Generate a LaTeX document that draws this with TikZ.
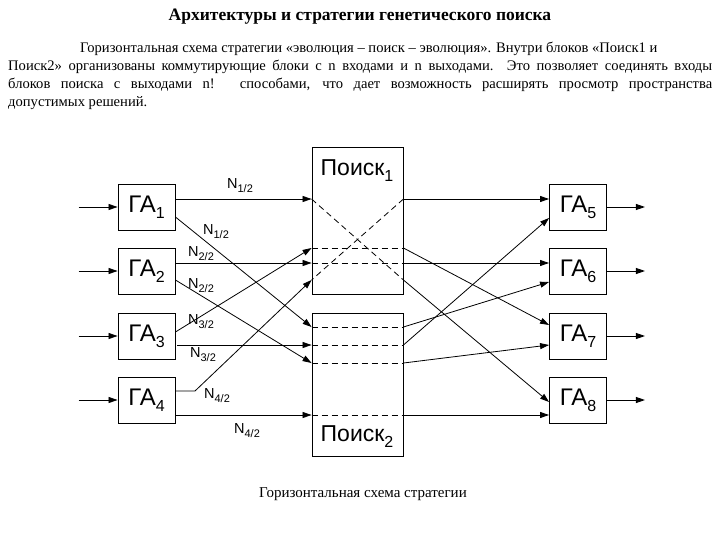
\documentclass[tikz,border=0pt]{standalone}
\usepackage{fontspec}
\setmainfont{Liberation Serif}
\newfontfamily\arial{Liberation Sans}
\usetikzlibrary{arrows.meta,calc}
\newcommand{\sbs}[1]{\raisebox{-6pt}{\fontsize{16}{16}\selectfont #1}}
\newcommand{\nsb}[1]{N\raisebox{-4pt}{\fontsize{11}{11}\selectfont #1}}
\begin{document}
\begin{tikzpicture}[x=1pt,y=-1pt,
  blk/.style={draw,line width=0.9pt,minimum width=57pt,minimum height=46pt,inner sep=0pt,font=\arial\fontsize{24}{24}\selectfont},
  srch/.style={draw,line width=0.9pt,minimum width=91pt,inner sep=0pt},
  con/.style={line width=0.8pt,-{Triangle[length=9pt,width=6pt]}},
  dsh/.style={line width=0.8pt,dash pattern=on 6pt off 4pt},
  lab/.style={font=\arial\fontsize{14.5}{14.5}\selectfont,inner sep=0pt}]
\useasboundingbox (0,0) rectangle (720,540);
\node[font=\bfseries\fontsize{17.5}{18}\selectfont] (title) at (360,17) {Архитектуры и стратегии генетического поиска};
\node[anchor=north west,inner sep=0pt,font=\fontsize{14.6}{18}\selectfont,align=left] (para) at (8,42) {%
\hspace*{72pt}Горизонтальная схема стратегии «эволюция – поиск – эволюция». Внутри блоков «Поиск1 и\\
\makebox[704pt][s]{Поиск2» организованы коммутирующие блоки с n входами и n выходами. Это позволяет соединять входы}\\
\makebox[704pt][s]{блоков поиска с выходами n! способами, что дает возможность расширять просмотр пространства}\\
допустимых решений.};
\node[font=\fontsize{15}{16}\selectfont] (cap) at (363,494) {Горизонтальная схема стратегии};
% blocks
\foreach \i/\y in {1/207,2/271,3/336,4/400}{\node[blk] (g\i) at (146.5,\y) {ГА\sbs{\i}};}
\foreach \i/\y in {5/207,6/271,7/336,8/400}{\node[blk] (g\i) at (578,\y) {ГА\sbs{\i}};}
\node[srch,minimum height=147pt] (p1) at (357.5,220.5) {};
\node[srch,minimum height=143pt] (p2) at (357.5,384.5) {};
\node[font=\arial\fontsize{23}{23}\selectfont] (p1t) at (357,171) {Поиск\sbs{1}};
\node[font=\arial\fontsize{23}{23}\selectfont] (p2t) at (357,437) {Поиск\sbs{2}};
% input/output arrows
\foreach \i in {1,...,4}{\coordinate (in\i) at ($(g\i.west)+(-39,0)$); \draw[con] (in\i) -- (g\i.west);}
\foreach \i in {5,...,8}{\coordinate (out\i) at ($(g\i.east)+(38,0)$); \draw[con] (g\i.east) -- (out\i);}
% left connections
\draw[con] (g1.east |- 0,199) -- (p1.west |- 0,199);
\draw[con] (g1.east |- 0,217) -- (p2.west |- 0,327);
\draw[con] (g2.east |- 0,263) -- (p1.west |- 0,263);
\draw[con] (g2.east |- 0,280) -- (p2.west |- 0,363);
\draw[con] (g3.east |- 0,332) -- (p1.west |- 0,248);
\draw[con] ([xshift=2pt]g3.east |- 0,345) -- (p2.west |- 0,345);
\coordinate (k4) at (195,391);
\draw[con] (g4.east |- 0,391) -- (k4) -- (p1.west |- 0,280);
\draw[con] (g4.east |- 0,415) -- (p2.west |- 0,415);
% dashed inside
\draw[dsh] (p1.west |- 0,199) -- (p1.east |- 0,280);
\draw[dsh] (p1.east |- 0,199) -- (p1.west |- 0,280);
\foreach \y in {248,263}{\draw[dsh] (p1.west |- 0,\y) -- (p1.east |- 0,\y);}
\foreach \y in {327,345,363,415}{\draw[dsh] (p2.west |- 0,\y) -- (p2.east |- 0,\y);}
% right connections
\draw[con] (p1.east |- 0,199) -- (g5.west |- 0,199);
\draw[con] (p1.east |- 0,248) -- (g7.west |- 0,325);
\draw[con] (p1.east |- 0,263) -- (g6.west |- 0,263);
\draw[con] (p1.east |- 0,280) -- (g8.west |- 0,402);
\draw[con] (p2.east |- 0,327) -- (g6.west |- 0,282);
\draw[con] (p2.east |- 0,345) -- (g5.west |- 0,218);
\draw[con] (p2.east |- 0,363) -- (g7.west |- 0,345);
\draw[con] (p2.east |- 0,415) -- (g8.west |- 0,415);
% labels
\node[lab] (l1) at (240,186) {\nsb{1/2}};
\node[lab] (l2) at (216,232) {\nsb{1/2}};
\node[lab] (l3) at (201,254) {\nsb{2/2}};
\node[lab] (l4) at (201,286) {\nsb{2/2}};
\node[lab] (l5) at (201,322) {\nsb{3/2}};
\node[lab] (l6) at (203,355) {\nsb{3/2}};
\node[lab] (l7) at (217,396) {\nsb{4/2}};
\node[lab] (l8) at (247,431) {\nsb{4/2}};
\end{tikzpicture}
\end{document}
